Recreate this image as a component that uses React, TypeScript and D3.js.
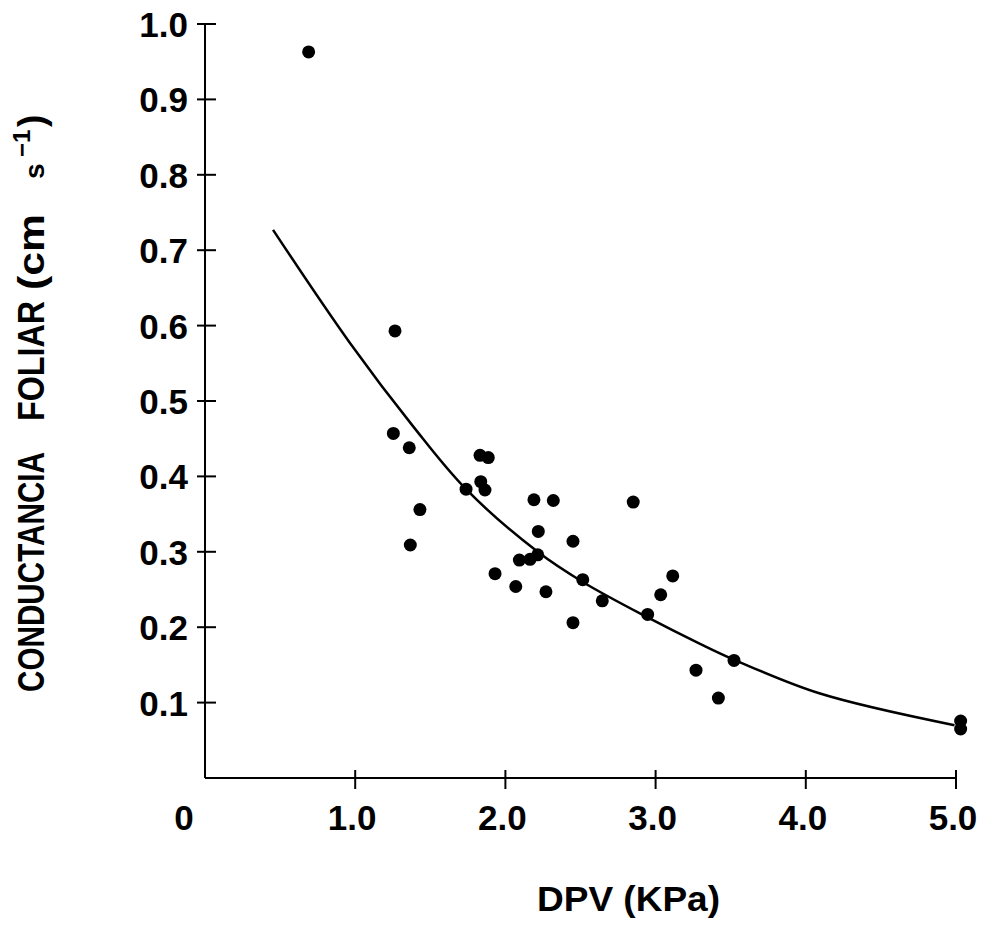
import React from "react";
import * as d3 from "d3";

// Vapour pressure deficit (KPa) vs leaf conductance (cm s-1)
const dpv: number[] = [
  0.69, 1.265, 1.254, 1.36, 1.831, 1.886, 1.836, 1.864, 1.738, 1.431, 1.367,
  2.19, 2.319, 2.851, 2.219, 2.45, 2.093, 2.164, 2.215, 1.931, 2.069, 2.27,
  2.515, 2.645, 2.45, 3.114, 3.034, 2.947, 3.269, 3.522, 3.418, 5.031, 5.031,
];
const conductancia: number[] = [
  0.963, 0.593, 0.457, 0.438, 0.428, 0.425, 0.393, 0.382, 0.383, 0.356, 0.309,
  0.369, 0.368, 0.366, 0.327, 0.314, 0.289, 0.29, 0.296, 0.271, 0.254, 0.247,
  0.263, 0.235, 0.206, 0.268, 0.243, 0.217, 0.143, 0.156, 0.106, 0.0756, 0.065,
];

// Fitted curve, sampled along its length
const curveX: number[] = [0.453, 0.965, 1.387, 1.738, 2.215, 2.515, 2.947, 3.296, 3.522, 4.095, 4.99];
const curveY: number[] = [0.727, 0.577, 0.466, 0.383, 0.3, 0.26, 0.213, 0.178, 0.157, 0.112, 0.07];

const xTicks: number[] = [0, 1, 2, 3, 4, 5];
const xTickLabels: string[] = ["0", "1.0", "2.0", "3.0", "4.0", "5.0"];
const yTicks: number[] = [0.1, 0.2, 0.3, 0.4, 0.5, 0.6, 0.7, 0.8, 0.9, 1.0];
const yTickLabels: string[] = ["0.1", "0.2", "0.3", "0.4", "0.5", "0.6", "0.7", "0.8", "0.9", "1.0"];

const FONT = "'Liberation Sans', Arial, sans-serif";

export default function App() {
  const x = d3.scaleLinear().domain([0, 5]).range([205, 956]);
  const y = d3.scaleLinear().domain([0, 1]).range([778, 24]);

  const line = d3
    .line<[number, number]>()
    .x((d) => x(d[0]))
    .y((d) => y(d[1]))
    .curve(d3.curveCatmullRom.alpha(0.5));
  const curvePts: [number, number][] = curveX.map((v, i) => [v, curveY[i]]);

  const rot = (px: number, py: number) => `rotate(-90, ${px}, ${py})`;

  return (
    <svg
      width={987}
      height={928}
      style={{ position: "absolute", left: 0, top: 0, background: "#fff" }}
    >
      <rect width={987} height={928} fill="#fff" />
      {/* axes */}
      <line x1={x(0)} x2={x(0)} y1={y(0)} y2={y(1)} stroke="#000" strokeWidth={2} />
      <line x1={x(0)} x2={x(5)} y1={y(0)} y2={y(0)} stroke="#000" strokeWidth={2} />
      {yTicks.map((t, i) => (
        <g key={"y" + i}>
          <line x1={x(0) - 8} x2={x(0) + 11} y1={y(t)} y2={y(t)} stroke="#000" strokeWidth={2} />
          <text
            x={188}
            y={y(t) + 13}
            textAnchor="end"
            fontFamily={FONT}
            fontWeight="bold"
            fontSize={35}
            fill="#000"
          >
            {yTickLabels[i]}
          </text>
        </g>
      ))}
      {xTicks.map((t, i) => (
        <g key={"x" + i}>
          {t > 0 && (
            <line x1={x(t)} x2={x(t)} y1={y(0) - 8} y2={y(0) + 11} stroke="#000" strokeWidth={2} />
          )}
          <text
            x={t === 0 ? x(t) - 21 : x(t) - 3}
            y={830}
            textAnchor="middle"
            fontFamily={FONT}
            fontWeight="bold"
            fontSize={35}
            fill="#000"
          >
            {xTickLabels[i]}
          </text>
        </g>
      ))}

      {/* fitted curve */}
      <path d={line(curvePts) ?? ""} fill="none" stroke="#000" strokeWidth={2.5} />

      {/* observations */}
      {dpv.map((v, i) => (
        <circle key={"p" + i} cx={x(v)} cy={y(conductancia[i])} r={6.5} fill="#000" />
      ))}

      {/* axis titles */}
      <text
        x={537}
        y={911}
        fontFamily={FONT}
        fontWeight="bold"
        fontSize={35}
        textLength={183}
        lengthAdjust="spacingAndGlyphs"
        fill="#000"
      >
        DPV (KPa)
      </text>
      <g fontFamily={FONT} fontWeight="bold" fill="#000">
        <text x={44} y={692} transform={rot(44, 692)} fontSize={37} textLength={240} lengthAdjust="spacingAndGlyphs">
          CONDUCTANCIA
        </text>
        <text x={44} y={421} transform={rot(44, 421)} fontSize={37} textLength={120} lengthAdjust="spacingAndGlyphs">
          FOLIAR
        </text>
        <text x={44} y={290} transform={rot(44, 290)} fontSize={37} textLength={76} lengthAdjust="spacingAndGlyphs">
          (cm
        </text>
        <text x={44} y={179} transform={rot(44, 179)} fontSize={28}>
          s
        </text>
        <text x={30} y={157} transform={rot(30, 157)} fontSize={24}>
          −1
        </text>
        <text x={44} y={127} transform={rot(44, 127)} fontSize={37}>
          )
        </text>
      </g>
    </svg>
  );
}
